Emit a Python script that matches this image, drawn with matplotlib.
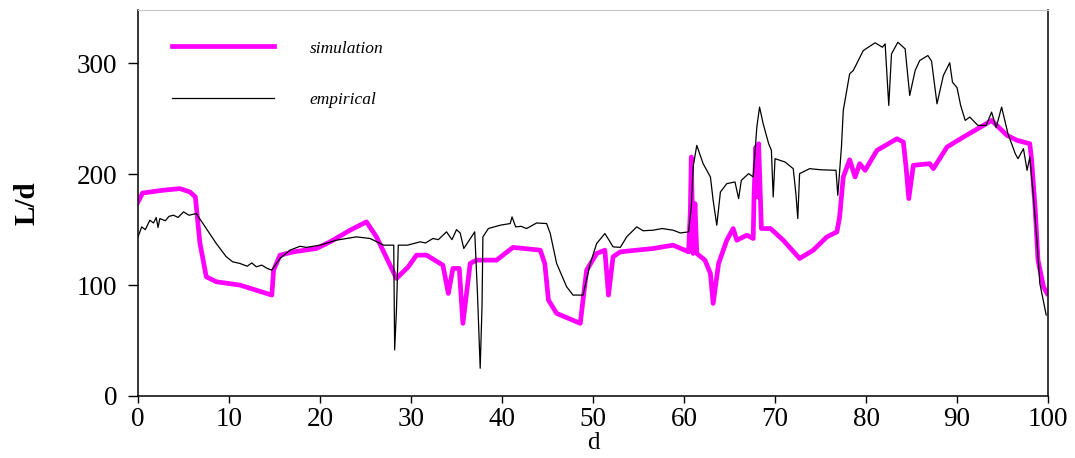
import numpy as np
import matplotlib.pyplot as plt

# simulation curve (d, L/d)
sim_d = [0, 0.5, 2.7, 4.6, 5.7, 6.3, 6.8, 7.5, 8.6, 11.2, 14.7, 14.9, 15.6, 17.1,
         19.6, 21.1, 23.3, 25.1, 26.2, 28.4, 29.7, 30.6, 31.7, 33.5, 34.1, 34.6,
         35.3, 35.7, 36.5, 37.2, 39.4, 41.2, 44.2, 44.7, 45.1, 46.0, 48.6, 48.9,
         49.3, 50.4, 51.3, 51.7, 52.2, 53.0, 56.6, 58.8, 60.5, 60.7, 60.8, 61.0,
         61.2, 61.4, 62.3, 62.9, 63.2, 63.8, 64.7, 65.4, 65.8, 66.9, 67.6, 67.7,
         67.9, 68.1, 68.2, 68.5, 69.5, 70.9, 72.7, 74.2, 75.7, 76.8, 77.1, 77.5,
         78.2, 78.8, 79.3, 79.9, 81.2, 83.4, 84.1, 84.4, 84.7, 85.2, 87.0, 87.4,
         88.9, 90.7, 92.9, 93.8, 95.5, 96.6, 98.0, 98.2, 98.6, 98.9, 99.5, 99.9]
sim_v = [175, 183, 185.5, 187, 184, 179.5, 138, 107.5, 103, 100, 91, 113.5, 127, 130,
         133, 139, 149.5, 157, 143.5, 106, 116.5, 127, 127, 118, 92.5, 115,
         115, 65.5, 119.5, 122.5, 122.5, 134, 131.5, 119.5, 86.5, 74.5, 65.5, 86.5,
         113.5, 128.5, 131.5, 91, 125.5, 130, 133, 136, 130, 167.5, 215.5, 128.5,
         173.5, 128.5, 122.5, 110.5, 83.5, 119.5, 140.5, 151, 140.5, 145, 142, 182.5,
         224.5, 179.5, 227.5, 151, 151, 140.5, 124, 131.5, 143.5, 148, 161.5, 197.5,
         213, 197.5, 209.5, 203.5, 221.5, 232, 229, 206.5, 178, 208, 209.5, 205,
         224.5, 233.5, 244, 248.5, 235, 230.5, 227.5, 212.5, 167.5, 122.5, 98.5, 92.5]

# empirical curve (d, L/d)
emp_d = [0, 0.4, 0.8, 1.3, 1.7, 2.0, 2.2, 2.4, 3.0, 3.4, 3.9, 4.4, 5.0, 5.6, 6.4,
         7.5, 8.6, 9.7, 10.4, 11.2, 12.0, 12.5, 13.0, 13.6, 14.2, 14.7, 15.6, 16.7,
         17.8, 18.5, 20.0, 21.8, 24.0, 25.5, 27.0, 28.1, 28.2, 28.4, 28.6, 29.6,
         31.0, 31.6, 32.4, 33.0, 33.9, 34.5, 35.0, 35.4, 35.8, 36.6, 37.0, 37.3,
         37.6, 37.8, 37.9, 38.5, 39.8, 40.9, 41.1, 41.5, 42.1, 42.7, 43.8, 44.9,
         45.3, 46.0, 47.1, 47.8, 48.9, 49.7, 50.4, 51.3, 51.8, 52.2, 53.0, 53.7,
         54.8, 55.5, 56.6, 57.6, 58.8, 59.6, 60.5, 60.8, 61.0, 61.4, 62.1, 62.9,
         63.2, 63.6, 64.0, 64.7, 65.6, 66.0, 66.3, 67.1, 67.6, 68.0, 68.3, 68.7,
         69.3, 69.6, 69.8, 70.0, 71.1, 72.0, 72.3, 72.5, 72.7, 73.8, 75.0, 76.7,
         76.9, 77.3, 77.5, 78.2, 78.6, 79.7, 81.0, 81.8, 82.1, 82.5, 82.8, 83.5,
         84.3, 84.8, 85.4, 85.9, 86.8, 87.2, 87.8, 88.5, 89.2, 89.5, 90.0, 90.4,
         90.9, 91.4, 92.3, 93.2, 93.8, 94.3, 94.9, 95.6, 96.4, 96.7, 97.3, 97.7,
         98.0, 98.4, 98.8, 99.1, 99.8]
emp_v = [143.5, 152.5, 150, 158.5, 156, 161, 152, 160, 158, 162, 163, 161, 166, 163, 164.5,
         151, 137.5, 125.5, 121, 119.5, 117, 120, 116.5, 118, 115, 113.5, 124, 131.5,
         135, 134, 136, 140.5, 143.5, 142, 136, 136, 41.5, 77.5, 136, 136,
         139, 138, 142, 141, 148, 141, 150, 147, 133, 143, 148, 92.5,
         25, 80.5, 143.5, 151, 154, 155.5, 161.5, 152.5, 153, 151, 156, 155.5,
         146.5, 119.5, 98.5, 91, 91, 119.5, 137.5, 146.5, 140, 134.5, 134, 143.5,
         152.5, 149, 149.5, 151, 149.5, 147, 148, 170.5, 206.5, 226, 209.5, 197.5,
         176.5, 154, 184, 191.5, 193, 178, 194.5, 200.5, 197.5, 242.5, 260.5, 245.5,
         227.5, 221.5, 179.5, 214, 211, 205, 182, 160, 200.5, 205, 204, 203.5,
         181, 224.5, 257.5, 290.5, 293.5, 311.5, 318.5, 314.5, 317.5, 262, 308.5, 319,
         313, 271, 293.5, 302.5, 307, 302, 263.5, 289, 300.5, 283, 278, 262,
         248.5, 251.5, 244, 244, 256, 242, 260.5, 236.5, 218.5, 214, 223, 203.5,
         215.5, 179.5, 137.5, 101.5, 73]

plt.rcParams['font.family'] = ['Liberation Serif', 'DejaVu Serif']

fig = plt.figure(figsize=(10.75, 4.58), dpi=100)
ax = fig.add_axes([0.1284, 0.1354, 0.8465, 0.8426])

ax.plot(sim_d, sim_v, color='#ff00ff', lw=3.4, label='simulation', solid_joinstyle='round')
ax.plot(emp_d, emp_v, color='black', lw=0.9, label='empirical')

ax.set_xlim(0, 100)
ax.set_ylim(0, 348)
ax.set_xticks(np.arange(0, 101, 10))
ax.set_yticks([0, 100, 200, 300])
ax.tick_params(direction='out', width=1, labelsize=19.5)
ax.tick_params(axis='x', length=5, pad=3)
ax.tick_params(axis='y', length=7, pad=8)
ax.spines['top'].set_color('#c8c8c8')
for s in ['left', 'bottom', 'right']:
    ax.spines[s].set_linewidth(1.1)

ax.set_xlabel('d', fontsize=18, labelpad=0)
ax.set_ylabel('L/d', fontsize=21, fontweight='bold', labelpad=26)

leg = ax.legend(loc='upper left', bbox_to_anchor=(0.02, 0.962), frameon=False,
                prop={'family': 'Liberation Serif', 'style': 'italic', 'size': 12.5},
                handlelength=5.9, handletextpad=2.05, labelspacing=2.05)

fig.savefig('out.png', dpi=100)
